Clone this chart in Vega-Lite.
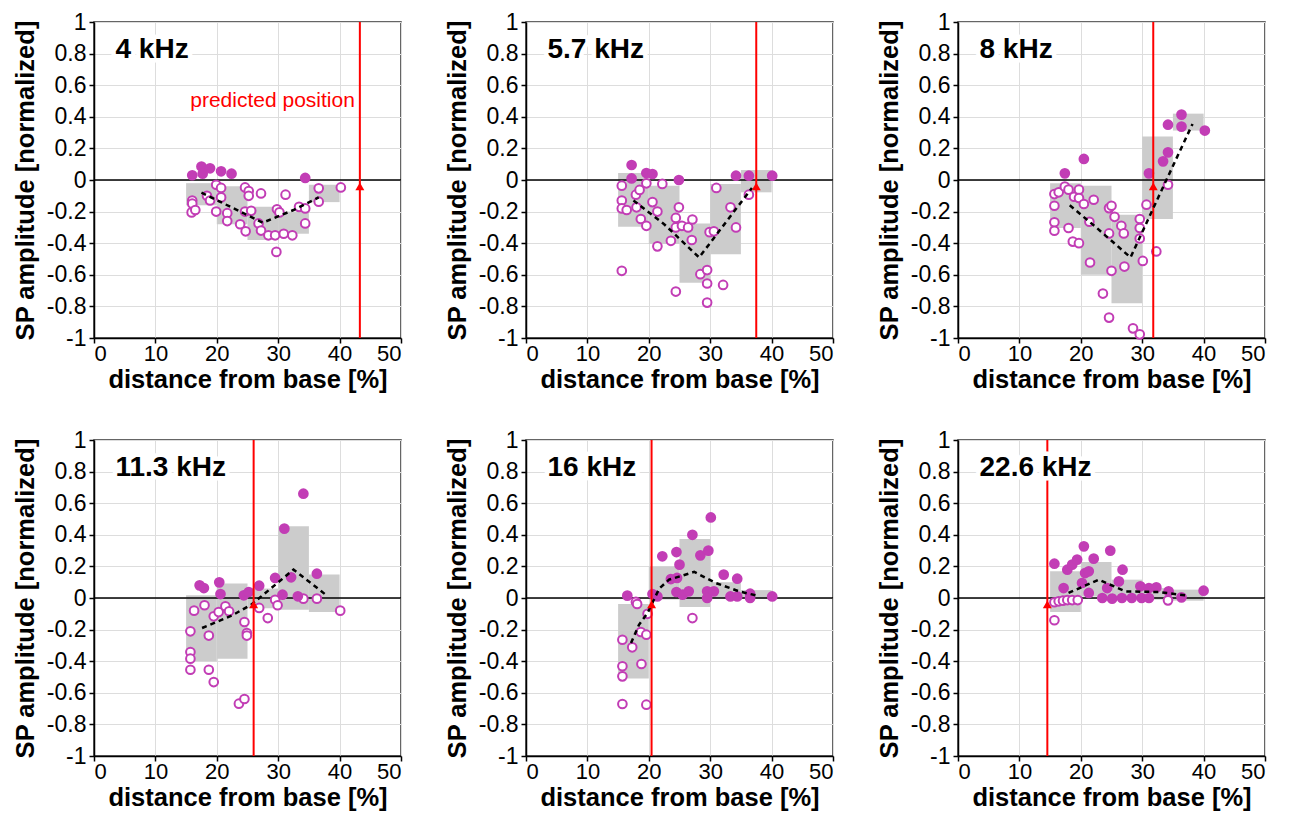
{
"$schema": "https://vega.github.io/schema/vega-lite/v6.json",
"background": "white",
"padding": {"left": 12, "top": 10, "right": 5, "bottom": 5},
"data": {"values": [
{"panel":"4 kHz","kind":"pred","x":43.3,"note":"predicted position"},
{"panel":"4 kHz","kind":"box","x":15,"x2":20,"y":-0.02,"y2":-0.16},
{"panel":"4 kHz","kind":"box","x":20,"x2":25,"y":-0.04,"y2":-0.28},
{"panel":"4 kHz","kind":"box","x":25,"x2":30,"y":-0.17,"y2":-0.38},
{"panel":"4 kHz","kind":"box","x":30,"x2":35,"y":-0.2,"y2":-0.34},
{"panel":"4 kHz","kind":"box","x":35,"x2":40,"y":-0.03,"y2":-0.14},
{"panel":"4 kHz","kind":"line","x":17.5,"y":-0.08},
{"panel":"4 kHz","kind":"line","x":22.5,"y":-0.175},
{"panel":"4 kHz","kind":"line","x":27.5,"y":-0.27},
{"panel":"4 kHz","kind":"line","x":32.5,"y":-0.19},
{"panel":"4 kHz","kind":"line","x":36.6,"y":-0.11},
{"panel":"4 kHz","kind":"f","x":16.0,"y":0.03},
{"panel":"4 kHz","kind":"f","x":17.5,"y":0.085},
{"panel":"4 kHz","kind":"f","x":17.7,"y":0.04},
{"panel":"4 kHz","kind":"f","x":18.9,"y":0.074},
{"panel":"4 kHz","kind":"f","x":20.7,"y":0.055},
{"panel":"4 kHz","kind":"f","x":22.4,"y":0.04},
{"panel":"4 kHz","kind":"f","x":34.4,"y":0.013},
{"panel":"4 kHz","kind":"o","x":16.0,"y":-0.13},
{"panel":"4 kHz","kind":"o","x":16.0,"y":-0.15},
{"panel":"4 kHz","kind":"o","x":15.9,"y":-0.205},
{"panel":"4 kHz","kind":"o","x":16.5,"y":-0.19},
{"panel":"4 kHz","kind":"o","x":18.4,"y":-0.10},
{"panel":"4 kHz","kind":"o","x":18.9,"y":-0.13},
{"panel":"4 kHz","kind":"o","x":19.9,"y":-0.03},
{"panel":"4 kHz","kind":"o","x":20.7,"y":-0.05},
{"panel":"4 kHz","kind":"o","x":20.7,"y":-0.11},
{"panel":"4 kHz","kind":"o","x":19.9,"y":-0.20},
{"panel":"4 kHz","kind":"o","x":21.7,"y":-0.21},
{"panel":"4 kHz","kind":"o","x":21.7,"y":-0.26},
{"panel":"4 kHz","kind":"o","x":24.6,"y":-0.047},
{"panel":"4 kHz","kind":"o","x":25.2,"y":-0.07},
{"panel":"4 kHz","kind":"o","x":25.2,"y":-0.10},
{"panel":"4 kHz","kind":"o","x":27.2,"y":-0.085},
{"panel":"4 kHz","kind":"o","x":24.6,"y":-0.20},
{"panel":"4 kHz","kind":"o","x":25.6,"y":-0.195},
{"panel":"4 kHz","kind":"o","x":23.8,"y":-0.28},
{"panel":"4 kHz","kind":"o","x":24.7,"y":-0.325},
{"panel":"4 kHz","kind":"o","x":26.8,"y":-0.275},
{"panel":"4 kHz","kind":"o","x":27.2,"y":-0.32},
{"panel":"4 kHz","kind":"o","x":28.4,"y":-0.35},
{"panel":"4 kHz","kind":"o","x":29.5,"y":-0.35},
{"panel":"4 kHz","kind":"o","x":30.9,"y":-0.34},
{"panel":"4 kHz","kind":"o","x":32.3,"y":-0.35},
{"panel":"4 kHz","kind":"o","x":29.7,"y":-0.455},
{"panel":"4 kHz","kind":"o","x":29.8,"y":-0.185},
{"panel":"4 kHz","kind":"o","x":30.2,"y":-0.205},
{"panel":"4 kHz","kind":"o","x":31.2,"y":-0.093},
{"panel":"4 kHz","kind":"o","x":33.4,"y":-0.17},
{"panel":"4 kHz","kind":"o","x":34.4,"y":-0.18},
{"panel":"4 kHz","kind":"o","x":34.4,"y":-0.275},
{"panel":"4 kHz","kind":"o","x":36.6,"y":-0.053},
{"panel":"4 kHz","kind":"o","x":36.6,"y":-0.137},
{"panel":"4 kHz","kind":"o","x":40.2,"y":-0.047},

{"panel":"5.7 kHz","kind":"pred","x":37.5,"note":""},
{"panel":"5.7 kHz","kind":"box","x":15,"x2":20,"y":0.044,"y2":-0.296},
{"panel":"5.7 kHz","kind":"box","x":20,"x2":25,"y":-0.036,"y2":-0.405},
{"panel":"5.7 kHz","kind":"box","x":25,"x2":30,"y":-0.275,"y2":-0.65},
{"panel":"5.7 kHz","kind":"box","x":30,"x2":35,"y":-0.025,"y2":-0.47},
{"panel":"5.7 kHz","kind":"box","x":35,"x2":40,"y":0.063,"y2":-0.078},
{"panel":"5.7 kHz","kind":"line","x":17.5,"y":-0.13},
{"panel":"5.7 kHz","kind":"line","x":22.5,"y":-0.28},
{"panel":"5.7 kHz","kind":"line","x":28.2,"y":-0.49},
{"panel":"5.7 kHz","kind":"line","x":32.5,"y":-0.27},
{"panel":"5.7 kHz","kind":"line","x":36.8,"y":-0.05},
{"panel":"5.7 kHz","kind":"f","x":17.2,"y":0.095},
{"panel":"5.7 kHz","kind":"f","x":17.2,"y":0.01},
{"panel":"5.7 kHz","kind":"f","x":19.6,"y":0.044},
{"panel":"5.7 kHz","kind":"f","x":20.6,"y":0.038},
{"panel":"5.7 kHz","kind":"f","x":24.9,"y":0.0},
{"panel":"5.7 kHz","kind":"f","x":34.2,"y":0.027},
{"panel":"5.7 kHz","kind":"f","x":36.3,"y":0.027},
{"panel":"5.7 kHz","kind":"f","x":40.1,"y":0.027},
{"panel":"5.7 kHz","kind":"o","x":15.6,"y":-0.036},
{"panel":"5.7 kHz","kind":"o","x":15.6,"y":-0.13},
{"panel":"5.7 kHz","kind":"o","x":15.6,"y":-0.18},
{"panel":"5.7 kHz","kind":"o","x":16.4,"y":-0.19},
{"panel":"5.7 kHz","kind":"o","x":17.9,"y":-0.093},
{"panel":"5.7 kHz","kind":"o","x":18.5,"y":-0.063},
{"panel":"5.7 kHz","kind":"o","x":19.6,"y":-0.021},
{"panel":"5.7 kHz","kind":"o","x":18.0,"y":-0.173},
{"panel":"5.7 kHz","kind":"o","x":18.7,"y":-0.247},
{"panel":"5.7 kHz","kind":"o","x":19.6,"y":-0.29},
{"panel":"5.7 kHz","kind":"o","x":20.6,"y":-0.14},
{"panel":"5.7 kHz","kind":"o","x":21.4,"y":-0.20},
{"panel":"5.7 kHz","kind":"o","x":22.2,"y":-0.025},
{"panel":"5.7 kHz","kind":"o","x":15.6,"y":-0.575},
{"panel":"5.7 kHz","kind":"o","x":21.4,"y":-0.42},
{"panel":"5.7 kHz","kind":"o","x":23.6,"y":-0.385},
{"panel":"5.7 kHz","kind":"o","x":24.4,"y":-0.24},
{"panel":"5.7 kHz","kind":"o","x":24.9,"y":-0.173},
{"panel":"5.7 kHz","kind":"o","x":24.4,"y":-0.30},
{"panel":"5.7 kHz","kind":"o","x":25.4,"y":-0.29},
{"panel":"5.7 kHz","kind":"o","x":26.4,"y":-0.30},
{"panel":"5.7 kHz","kind":"o","x":27.1,"y":-0.25},
{"panel":"5.7 kHz","kind":"o","x":27.0,"y":-0.38},
{"panel":"5.7 kHz","kind":"o","x":24.4,"y":-0.706},
{"panel":"5.7 kHz","kind":"o","x":28.4,"y":-0.596},
{"panel":"5.7 kHz","kind":"o","x":29.5,"y":-0.57},
{"panel":"5.7 kHz","kind":"o","x":29.5,"y":-0.655},
{"panel":"5.7 kHz","kind":"o","x":29.5,"y":-0.776},
{"panel":"5.7 kHz","kind":"o","x":32.1,"y":-0.664},
{"panel":"5.7 kHz","kind":"o","x":29.9,"y":-0.33},
{"panel":"5.7 kHz","kind":"o","x":30.6,"y":-0.325},
{"panel":"5.7 kHz","kind":"o","x":31.0,"y":-0.05},
{"panel":"5.7 kHz","kind":"o","x":33.3,"y":-0.173},
{"panel":"5.7 kHz","kind":"o","x":34.2,"y":-0.30},
{"panel":"5.7 kHz","kind":"o","x":36.3,"y":-0.093},

{"panel":"8 kHz","kind":"pred","x":31.8,"note":""},
{"panel":"8 kHz","kind":"box","x":15,"x2":20,"y":-0.021,"y2":-0.304},
{"panel":"8 kHz","kind":"box","x":20,"x2":25,"y":-0.036,"y2":-0.60},
{"panel":"8 kHz","kind":"box","x":25,"x2":30,"y":-0.22,"y2":-0.78},
{"panel":"8 kHz","kind":"box","x":30,"x2":35,"y":0.275,"y2":-0.247},
{"panel":"8 kHz","kind":"box","x":35,"x2":40,"y":0.42,"y2":0.313},
{"panel":"8 kHz","kind":"line","x":18.2,"y":-0.16},
{"panel":"8 kHz","kind":"line","x":22.5,"y":-0.30},
{"panel":"8 kHz","kind":"line","x":28.1,"y":-0.49},
{"panel":"8 kHz","kind":"line","x":32.5,"y":-0.12},
{"panel":"8 kHz","kind":"line","x":38.2,"y":0.355},
{"panel":"8 kHz","kind":"f","x":17.4,"y":0.042},
{"panel":"8 kHz","kind":"f","x":20.5,"y":0.133},
{"panel":"8 kHz","kind":"f","x":31.1,"y":0.042},
{"panel":"8 kHz","kind":"f","x":33.4,"y":0.118},
{"panel":"8 kHz","kind":"f","x":34.2,"y":0.175},
{"panel":"8 kHz","kind":"f","x":34.2,"y":0.35},
{"panel":"8 kHz","kind":"f","x":36.4,"y":0.414},
{"panel":"8 kHz","kind":"f","x":36.4,"y":0.338},
{"panel":"8 kHz","kind":"f","x":40.2,"y":0.313},
{"panel":"8 kHz","kind":"o","x":15.7,"y":-0.089},
{"panel":"8 kHz","kind":"o","x":16.4,"y":-0.078},
{"panel":"8 kHz","kind":"o","x":15.7,"y":-0.163},
{"panel":"8 kHz","kind":"o","x":15.7,"y":-0.268},
{"panel":"8 kHz","kind":"o","x":15.7,"y":-0.321},
{"panel":"8 kHz","kind":"o","x":17.4,"y":-0.042},
{"panel":"8 kHz","kind":"o","x":18.0,"y":-0.061},
{"panel":"8 kHz","kind":"o","x":18.9,"y":-0.106},
{"panel":"8 kHz","kind":"o","x":19.7,"y":-0.061},
{"panel":"8 kHz","kind":"o","x":19.7,"y":-0.114},
{"panel":"8 kHz","kind":"o","x":20.5,"y":-0.152},
{"panel":"8 kHz","kind":"o","x":22.1,"y":-0.125},
{"panel":"8 kHz","kind":"o","x":18.0,"y":-0.304},
{"panel":"8 kHz","kind":"o","x":18.7,"y":-0.39},
{"panel":"8 kHz","kind":"o","x":19.7,"y":-0.40},
{"panel":"8 kHz","kind":"o","x":21.4,"y":-0.264},
{"panel":"8 kHz","kind":"o","x":24.6,"y":-0.178},
{"panel":"8 kHz","kind":"o","x":25.0,"y":-0.163},
{"panel":"8 kHz","kind":"o","x":24.6,"y":-0.338},
{"panel":"8 kHz","kind":"o","x":25.5,"y":-0.233},
{"panel":"8 kHz","kind":"o","x":26.6,"y":-0.29},
{"panel":"8 kHz","kind":"o","x":27.0,"y":-0.338},
{"panel":"8 kHz","kind":"o","x":21.5,"y":-0.522},
{"panel":"8 kHz","kind":"o","x":25.0,"y":-0.575},
{"panel":"8 kHz","kind":"o","x":27.1,"y":-0.548},
{"panel":"8 kHz","kind":"o","x":23.6,"y":-0.719},
{"panel":"8 kHz","kind":"o","x":24.6,"y":-0.871},
{"panel":"8 kHz","kind":"o","x":28.5,"y":-0.939},
{"panel":"8 kHz","kind":"o","x":29.6,"y":-0.977},
{"panel":"8 kHz","kind":"o","x":29.6,"y":-0.247},
{"panel":"8 kHz","kind":"o","x":29.6,"y":-0.304},
{"panel":"8 kHz","kind":"o","x":29.6,"y":-0.37},
{"panel":"8 kHz","kind":"o","x":30.1,"y":-0.512},
{"panel":"8 kHz","kind":"o","x":30.7,"y":-0.156},
{"panel":"8 kHz","kind":"o","x":32.3,"y":-0.452},
{"panel":"8 kHz","kind":"o","x":34.2,"y":-0.03},

{"panel":"11.3 kHz","kind":"pred","x":26.0,"note":""},
{"panel":"11.3 kHz","kind":"box","x":15,"x2":20,"y":0.017,"y2":-0.40},
{"panel":"11.3 kHz","kind":"box","x":20,"x2":25,"y":0.091,"y2":-0.384},
{"panel":"11.3 kHz","kind":"box","x":25,"x2":30,"y":0.06,"y2":-0.065},
{"panel":"11.3 kHz","kind":"box","x":30,"x2":35,"y":0.454,"y2":-0.074},
{"panel":"11.3 kHz","kind":"box","x":35,"x2":40,"y":0.148,"y2":-0.089},
{"panel":"11.3 kHz","kind":"line","x":17.6,"y":-0.19},
{"panel":"11.3 kHz","kind":"line","x":22.5,"y":-0.11},
{"panel":"11.3 kHz","kind":"line","x":25.7,"y":-0.04},
{"panel":"11.3 kHz","kind":"line","x":32.5,"y":0.18},
{"panel":"11.3 kHz","kind":"line","x":37.6,"y":0.025},
{"panel":"11.3 kHz","kind":"f","x":17.2,"y":0.08},
{"panel":"11.3 kHz","kind":"f","x":17.9,"y":0.063},
{"panel":"11.3 kHz","kind":"f","x":20.4,"y":0.099},
{"panel":"11.3 kHz","kind":"f","x":20.6,"y":0.025},
{"panel":"11.3 kHz","kind":"f","x":24.4,"y":0.017},
{"panel":"11.3 kHz","kind":"f","x":25.2,"y":0.038},
{"panel":"11.3 kHz","kind":"f","x":26.9,"y":0.078},
{"panel":"11.3 kHz","kind":"f","x":29.5,"y":0.127},
{"panel":"11.3 kHz","kind":"f","x":30.7,"y":0.021},
{"panel":"11.3 kHz","kind":"f","x":32.1,"y":0.131},
{"panel":"11.3 kHz","kind":"f","x":31.0,"y":0.439},
{"panel":"11.3 kHz","kind":"f","x":34.1,"y":0.66},
{"panel":"11.3 kHz","kind":"f","x":33.2,"y":0.011},
{"panel":"11.3 kHz","kind":"f","x":36.3,"y":0.154},
{"panel":"11.3 kHz","kind":"o","x":16.3,"y":-0.08},
{"panel":"11.3 kHz","kind":"o","x":15.7,"y":-0.211},
{"panel":"11.3 kHz","kind":"o","x":15.7,"y":-0.342},
{"panel":"11.3 kHz","kind":"o","x":15.7,"y":-0.384},
{"panel":"11.3 kHz","kind":"o","x":15.7,"y":-0.454},
{"panel":"11.3 kHz","kind":"o","x":18.0,"y":-0.046},
{"panel":"11.3 kHz","kind":"o","x":18.7,"y":-0.238},
{"panel":"11.3 kHz","kind":"o","x":18.7,"y":-0.454},
{"panel":"11.3 kHz","kind":"o","x":19.5,"y":-0.532},
{"panel":"11.3 kHz","kind":"o","x":19.5,"y":-0.116},
{"panel":"11.3 kHz","kind":"o","x":20.3,"y":-0.089},
{"panel":"11.3 kHz","kind":"o","x":21.4,"y":-0.053},
{"panel":"11.3 kHz","kind":"o","x":22.0,"y":-0.084},
{"panel":"11.3 kHz","kind":"o","x":24.5,"y":-0.152},
{"panel":"11.3 kHz","kind":"o","x":24.9,"y":-0.222},
{"panel":"11.3 kHz","kind":"o","x":24.9,"y":-0.238},
{"panel":"11.3 kHz","kind":"o","x":23.6,"y":-0.669},
{"panel":"11.3 kHz","kind":"o","x":24.5,"y":-0.639},
{"panel":"11.3 kHz","kind":"o","x":26.9,"y":-0.063},
{"panel":"11.3 kHz","kind":"o","x":28.3,"y":-0.127},
{"panel":"11.3 kHz","kind":"o","x":29.5,"y":-0.011},
{"panel":"11.3 kHz","kind":"o","x":29.9,"y":-0.046},
{"panel":"11.3 kHz","kind":"o","x":34.1,"y":-0.004},
{"panel":"11.3 kHz","kind":"o","x":36.3,"y":-0.004},
{"panel":"11.3 kHz","kind":"o","x":40.1,"y":-0.08},

{"panel":"16 kHz","kind":"pred","x":20.45,"note":""},
{"panel":"16 kHz","kind":"box","x":15,"x2":20,"y":-0.038,"y2":-0.51},
{"panel":"16 kHz","kind":"box","x":20,"x2":25,"y":0.2,"y2":-0.01},
{"panel":"16 kHz","kind":"box","x":25,"x2":30,"y":0.373,"y2":-0.057},
{"panel":"16 kHz","kind":"box","x":30,"x2":35,"y":0.1,"y2":0.0},
{"panel":"16 kHz","kind":"box","x":35,"x2":40,"y":0.05,"y2":-0.005},
{"panel":"16 kHz","kind":"line","x":17.1,"y":-0.285},
{"panel":"16 kHz","kind":"line","x":18.4,"y":-0.17},
{"panel":"16 kHz","kind":"line","x":19.8,"y":-0.095},
{"panel":"16 kHz","kind":"line","x":21.7,"y":0.06},
{"panel":"16 kHz","kind":"line","x":23.3,"y":0.116},
{"panel":"16 kHz","kind":"line","x":27.4,"y":0.165},
{"panel":"16 kHz","kind":"line","x":30.9,"y":0.095},
{"panel":"16 kHz","kind":"line","x":34.7,"y":0.042},
{"panel":"16 kHz","kind":"line","x":37.4,"y":0.017},
{"panel":"16 kHz","kind":"f","x":16.5,"y":0.015},
{"panel":"16 kHz","kind":"f","x":20.6,"y":0.025},
{"panel":"16 kHz","kind":"f","x":21.4,"y":0.01},
{"panel":"16 kHz","kind":"f","x":22.2,"y":0.264},
{"panel":"16 kHz","kind":"f","x":24.5,"y":0.291},
{"panel":"16 kHz","kind":"f","x":25.0,"y":0.211},
{"panel":"16 kHz","kind":"f","x":23.6,"y":0.12},
{"panel":"16 kHz","kind":"f","x":24.6,"y":0.127},
{"panel":"16 kHz","kind":"f","x":24.5,"y":0.038},
{"panel":"16 kHz","kind":"f","x":25.5,"y":0.021},
{"panel":"16 kHz","kind":"f","x":26.5,"y":0.042},
{"panel":"16 kHz","kind":"f","x":27.1,"y":0.40},
{"panel":"16 kHz","kind":"f","x":28.4,"y":0.27},
{"panel":"16 kHz","kind":"f","x":29.7,"y":0.30},
{"panel":"16 kHz","kind":"f","x":30.1,"y":0.51},
{"panel":"16 kHz","kind":"f","x":29.5,"y":0.042},
{"panel":"16 kHz","kind":"f","x":29.5,"y":0.0},
{"panel":"16 kHz","kind":"f","x":30.6,"y":0.042},
{"panel":"16 kHz","kind":"f","x":32.2,"y":0.148},
{"panel":"16 kHz","kind":"f","x":34.4,"y":0.122},
{"panel":"16 kHz","kind":"f","x":33.3,"y":0.01},
{"panel":"16 kHz","kind":"f","x":34.4,"y":0.01},
{"panel":"16 kHz","kind":"f","x":36.5,"y":0.027},
{"panel":"16 kHz","kind":"f","x":36.5,"y":0.0},
{"panel":"16 kHz","kind":"f","x":40.1,"y":0.01},
{"panel":"16 kHz","kind":"o","x":17.9,"y":-0.025},
{"panel":"16 kHz","kind":"o","x":18.1,"y":-0.038},
{"panel":"16 kHz","kind":"o","x":19.8,"y":-0.10},
{"panel":"16 kHz","kind":"o","x":18.7,"y":-0.215},
{"panel":"16 kHz","kind":"o","x":19.6,"y":-0.232},
{"panel":"16 kHz","kind":"o","x":15.7,"y":-0.264},
{"panel":"16 kHz","kind":"o","x":17.3,"y":-0.312},
{"panel":"16 kHz","kind":"o","x":18.8,"y":-0.418},
{"panel":"16 kHz","kind":"o","x":15.7,"y":-0.432},
{"panel":"16 kHz","kind":"o","x":15.7,"y":-0.496},
{"panel":"16 kHz","kind":"o","x":15.7,"y":-0.671},
{"panel":"16 kHz","kind":"o","x":19.6,"y":-0.675},
{"panel":"16 kHz","kind":"o","x":27.1,"y":-0.127},

{"panel":"22.6 kHz","kind":"pred","x":14.55,"note":""},
{"panel":"22.6 kHz","kind":"box","x":15,"x2":20,"y":0.169,"y2":-0.089},
{"panel":"22.6 kHz","kind":"box","x":20,"x2":25,"y":0.228,"y2":0.01},
{"panel":"22.6 kHz","kind":"box","x":25,"x2":30,"y":0.116,"y2":0.0},
{"panel":"22.6 kHz","kind":"box","x":30,"x2":35,"y":0.063,"y2":-0.01},
{"panel":"22.6 kHz","kind":"box","x":35,"x2":40,"y":0.053,"y2":-0.017},
{"panel":"22.6 kHz","kind":"line","x":18.0,"y":0.032},
{"panel":"22.6 kHz","kind":"line","x":22.9,"y":0.116},
{"panel":"22.6 kHz","kind":"line","x":27.3,"y":0.042},
{"panel":"22.6 kHz","kind":"line","x":32.7,"y":0.038},
{"panel":"22.6 kHz","kind":"line","x":37.0,"y":0.017},
{"panel":"22.6 kHz","kind":"f","x":15.7,"y":0.217},
{"panel":"22.6 kHz","kind":"f","x":17.2,"y":0.063},
{"panel":"22.6 kHz","kind":"f","x":17.8,"y":0.179},
{"panel":"22.6 kHz","kind":"f","x":18.6,"y":0.211},
{"panel":"22.6 kHz","kind":"f","x":19.4,"y":0.243},
{"panel":"22.6 kHz","kind":"f","x":20.5,"y":0.327},
{"panel":"22.6 kHz","kind":"f","x":20.7,"y":0.158},
{"panel":"22.6 kHz","kind":"f","x":21.3,"y":0.169},
{"panel":"22.6 kHz","kind":"f","x":20.2,"y":0.095},
{"panel":"22.6 kHz","kind":"f","x":21.3,"y":0.032},
{"panel":"22.6 kHz","kind":"f","x":22.1,"y":0.249},
{"panel":"22.6 kHz","kind":"f","x":23.5,"y":0.0},
{"panel":"22.6 kHz","kind":"f","x":24.3,"y":0.063},
{"panel":"22.6 kHz","kind":"f","x":24.8,"y":0.30},
{"panel":"22.6 kHz","kind":"f","x":25.1,"y":-0.004},
{"panel":"22.6 kHz","kind":"f","x":26.2,"y":0.105},
{"panel":"22.6 kHz","kind":"f","x":26.8,"y":0.179},
{"panel":"22.6 kHz","kind":"f","x":26.7,"y":0.0},
{"panel":"22.6 kHz","kind":"f","x":28.3,"y":0.0},
{"panel":"22.6 kHz","kind":"f","x":29.7,"y":0.074},
{"panel":"22.6 kHz","kind":"f","x":29.9,"y":0.0},
{"panel":"22.6 kHz","kind":"f","x":31.1,"y":0.0},
{"panel":"22.6 kHz","kind":"f","x":31.1,"y":0.063},
{"panel":"22.6 kHz","kind":"f","x":32.3,"y":0.067},
{"panel":"22.6 kHz","kind":"f","x":34.3,"y":0.042},
{"panel":"22.6 kHz","kind":"f","x":36.4,"y":0.004},
{"panel":"22.6 kHz","kind":"f","x":40.0,"y":0.046},
{"panel":"22.6 kHz","kind":"o","x":15.7,"y":-0.141},
{"panel":"22.6 kHz","kind":"o","x":15.7,"y":-0.027},
{"panel":"22.6 kHz","kind":"o","x":16.4,"y":-0.021},
{"panel":"22.6 kHz","kind":"o","x":17.1,"y":-0.017},
{"panel":"22.6 kHz","kind":"o","x":17.8,"y":-0.013},
{"panel":"22.6 kHz","kind":"o","x":18.6,"y":-0.013},
{"panel":"22.6 kHz","kind":"o","x":19.5,"y":-0.013},
{"panel":"22.6 kHz","kind":"o","x":34.2,"y":-0.015}
]},
"facet": {"field": "panel", "type": "nominal", "title": null,
  "sort": ["4 kHz","5.7 kHz","8 kHz","11.3 kHz","16 kHz","22.6 kHz"],
  "header": {"labels": false, "title": null, "labelFontSize": 0.1, "labelPadding": 0, "labelExpr": "''"}},
"columns": 3,
"spacing": {"column": 125, "row": 102},
"bounds": "flush",
"resolve": {"axis": {"x": "independent", "y": "independent"}},
"spec": {
  "width": 307,
  "height": 316,
  "layer": [
    {"transform": [{"filter": "datum.kind == 'box'"}],
     "mark": {"type": "rect", "color": "#cccccc"},
     "encoding": {
       "x": {"field": "x", "type": "quantitative", "title": "distance from base [%]",
             "scale": {"domain": [0, 50], "nice": false, "zero": false},
             "axis": {"values": [0,10,20,30,40,50], "tickCount": 6, "labelOverlap": false}},
       "x2": {"field": "x2"},
       "y": {"field": "y", "type": "quantitative", "title": "SP amplitude [normalized]",
             "scale": {"domain": [-1, 1], "nice": false, "zero": false},
             "axis": {"values": [-1,-0.8,-0.6,-0.4,-0.2,0,0.2,0.4,0.6,0.8,1], "tickCount": 11, "labelExpr": "toString(datum.value)", "labelOverlap": false}},
       "y2": {"field": "y2"}}},
    {"transform": [{"filter": "datum.kind == 'pred'"}],
     "mark": {"type": "rule", "color": "#000000", "strokeWidth": 1.5},
     "encoding": {"y": {"datum": 0, "type": "quantitative"}}},
    {"transform": [{"filter": "datum.kind == 'o'"}],
     "mark": {"type": "point", "shape": "circle", "filled": true, "fill": "#ffffff", "stroke": "#c23db5", "strokeWidth": 2, "size": 75, "opacity": 1},
     "encoding": {
       "x": {"field": "x", "type": "quantitative", "title": "distance from base [%]"},
       "y": {"field": "y", "type": "quantitative", "title": "SP amplitude [normalized]"}}},
    {"transform": [{"filter": "datum.kind == 'f'"}],
     "mark": {"type": "circle", "color": "#c23db5", "size": 115, "opacity": 1},
     "encoding": {
       "x": {"field": "x", "type": "quantitative", "title": "distance from base [%]"},
       "y": {"field": "y", "type": "quantitative", "title": "SP amplitude [normalized]"}}},
    {"transform": [{"filter": "datum.kind == 'pred'"}],
     "mark": {"type": "rule", "color": "#ff0000", "strokeWidth": 2},
     "encoding": {"x": {"field": "x", "type": "quantitative", "title": "distance from base [%]"}}},
    {"transform": [{"filter": "datum.kind == 'line'"}],
     "mark": {"type": "line", "color": "#000000", "strokeWidth": 2.5, "strokeDash": [5, 4]},
     "encoding": {
       "x": {"field": "x", "type": "quantitative", "title": "distance from base [%]"},
       "y": {"field": "y", "type": "quantitative", "title": "SP amplitude [normalized]"}}},
    {"transform": [{"filter": "datum.kind == 'pred'"}],
     "mark": {"type": "point", "shape": "triangle-up", "filled": true, "color": "#ff0000", "size": 80, "opacity": 1},
     "encoding": {
       "x": {"field": "x", "type": "quantitative", "title": "distance from base [%]"},
       "y": {"datum": -0.04, "type": "quantitative"}}},
    {"transform": [{"filter": "datum.kind == 'pred'"}],
     "mark": {"type": "text", "color": "#ff0000", "fontSize": 21, "align": "right", "baseline": "middle", "dx": -5, "font": "Liberation Sans"},
     "encoding": {
       "x": {"field": "x", "type": "quantitative", "title": "distance from base [%]"},
       "y": {"datum": 0.5, "type": "quantitative"},
       "text": {"field": "note"}}},
    {"transform": [{"filter": "datum.kind == 'pred'"}],
     "mark": {"type": "text", "color": "#ffffff", "stroke": "#ffffff", "strokeWidth": 9, "strokeJoin": "round", "fontSize": 28, "fontWeight": "bold", "align": "left", "baseline": "middle", "font": "Liberation Sans"},
     "encoding": {
       "x": {"datum": 3.5, "type": "quantitative"},
       "y": {"datum": 0.82, "type": "quantitative"},
       "text": {"field": "panel"}}},
    {"transform": [{"filter": "datum.kind == 'pred'"}],
     "mark": {"type": "text", "color": "#000000", "fontSize": 28, "fontWeight": "bold", "align": "left", "baseline": "middle", "font": "Liberation Sans"},
     "encoding": {
       "x": {"datum": 3.5, "type": "quantitative"},
       "y": {"datum": 0.82, "type": "quantitative"},
       "text": {"field": "panel"}}}
  ]
},
"config": {
  "font": "Liberation Sans",
  "view": {"stroke": "#333333", "strokeWidth": 1.5},
  "header": {"labels": false, "title": null, "labelFontSize": 0.1, "labelPadding": 0},
  "headerFacet": {"labels": false, "title": null, "labelFontSize": 0.1, "labelPadding": 0},
  "axis": {
    "grid": true, "gridColor": "#dddddd", "gridWidth": 1,
    "domainColor": "#000000", "domainWidth": 1.5,
    "tickColor": "#000000", "tickSize": 5, "tickWidth": 1.5,
    "labelFont": "Liberation Sans", "labelColor": "#000000", "labelOverlap": false,
    "titleFont": "Liberation Sans", "titleFontSize": 25.5, "titleFontWeight": "bold", "titleColor": "#000000"
  },
  "axisX": {"labelFontSize": 22, "labelPadding": 0, "titlePadding": 3},
  "axisY": {"labelFontSize": 23, "labelPadding": 3, "titlePadding": 8, "labelOverlap": false}
}
}
